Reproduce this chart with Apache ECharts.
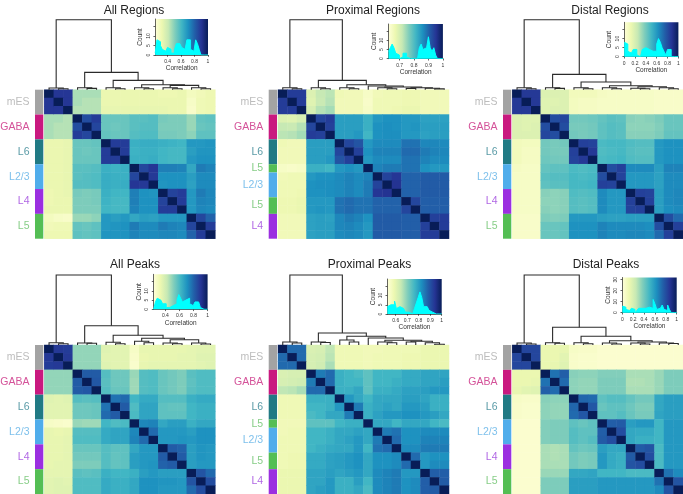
<!DOCTYPE html>
<html><head><meta charset="utf-8">
<style>html,body{margin:0;padding:0;background:#fff;overflow:hidden}#c{width:683px;height:494px}</style>
<script src="https://cdn.jsdelivr.net/npm/echarts@6/dist/echarts.min.js"></script>
</head><body><div id="c"></div>
<script>
const panelTitles = ['All Regions','Proximal Regions','Distal Regions','All Peaks','Proximal Peaks','Distal Peaks'];
const groupsSix = [['mES',3],['GABA',3],['L6',3],['L2/3',3],['L4',3],['L5',3]];
const groupsSeven = [['mES',3],['GABA',3],['L6',3],['L5',1],['L2/3',3],['L5',2],['L4',3]];
const groupColors = {mES:'#a3a3a3',GABA:'#c9197f','L6':'#217a84','L2/3':'#50adeb','L4':'#9b2fe0','L5':'#54be54'};
const labelColors = {mES:'#adadad',GABA:'#c9277f','L6':'#2f8190','L2/3':'#5cb0e6','L4':'#9b3fdc','L5':'#68c068'};
const yBuckets = ['#ffffd9','#edf8b1','#c7e9b4','#7fcdbb','#41b6c4','#1d91c0','#225ea8','#253494','#081d58'];

// Upper triangle of each correlation heat map, on the colour key's 0-100 scale
const allRegions = [
[100,87,87,30,30,30,13,13,13,13,13,13,12,12,13,8,10,12],
[100,87,30,28,28,13,13,13,13,13,13,13,13,13,6,11,12],
[100,28,28,28,14,14,14,14,14,14,14,13,13,5,11,12],
[100,80,85,42,42,42,45,45,46,39,38,38,33,43,44],
[100,82,42,41,42,45,46,46,38,38,38,33,42,43],
[100,43,42,42,46,47,47,39,39,38,35,44,44],
[100,85,85,52,53,53,52,51,50,60,60,61],
[100,85,51,52,52,50,49,49,58,61,61],
[100,52,52,53,50,49,49,60,62,62],
[100,82,87,67,67,66,55,68,66],
[100,86,62,62,62,58,64,64],
[100,61,62,62,57,64,64],
[100,83,85,60,68,65],
[100,85,60,66,65],
[100,60,65,64],
[100,82,74],
[100,85],
[100]];
const proximalRegions = [
[100,85,85,18,25,27,11,10,10,6,10,11,11,12,12,10,10,10],
[100,85,17,24,28,10,10,10,5,11,11,11,12,12,10,10,10],
[100,20,28,31,10,10,10,6,11,11,12,13,13,10,10,10],
[100,82,85,58,58,58,52,60,62,62,60,60,57,57,57],
[100,84,58,58,58,52,62,63,62,60,61,58,58,58],
[100,58,58,60,50,62,63,63,60,60,57,58,58],
[100,82,78,60,64,64,64,70,70,65,65,64],
[100,84,62,66,66,66,72,72,68,66,65],
[100,60,64,64,64,70,70,66,64,64],
[100,66,68,68,70,70,62,60,60],
[100,83,87,74,74,76,76,76],
[100,88,74,74,76,76,76],
[100,74,74,76,76,76],
[100,82,75,75,75],
[100,75,75,75],
[100,84,85],
[100,85],
[100]];
const distalRegions = [
[100,86,86,18,18,18,9,9,9,7,6,6,6,6,6,5,5,5],
[100,86,17,17,18,8,7,7,6,6,6,6,6,6,5,5,5],
[100,17,18,18,8,7,7,6,6,6,6,6,6,5,5,5],
[100,80,82,40,40,41,43,45,44,36,35,36,38,42,42],
[100,80,39,39,40,44,46,45,35,35,35,37,42,42],
[100,40,39,40,44,46,45,36,36,36,38,43,43],
[100,84,83,48,49,49,47,46,46,60,62,62],
[100,86,47,48,49,46,45,45,60,62,62],
[100,48,49,50,47,46,46,60,62,62],
[100,80,84,64,64,64,58,66,66],
[100,83,60,60,60,57,64,64],
[100,60,60,60,57,64,64],
[100,84,83,58,64,65],
[100,84,58,64,65],
[100,58,63,64],
[100,80,72],
[100,84],
[100]];
const allPeaks = [
[100,86,85,34,34,34,17,16,16,6,14,14,14,14,14,15,16,16],
[100,86,34,34,34,16,16,16,5,13,14,14,14,15,15,17,17],
[100,34,34,34,17,16,16,4,14,15,15,15,15,15,16,17],
[100,76,76,46,41,41,33,46,47,42,40,38,45,47,47],
[100,77,45,41,41,32,46,47,42,40,38,44,47,47],
[100,46,42,42,32,46,47,42,40,38,45,47,47],
[100,70,72,50,54,54,46,46,46,52,54,54],
[100,76,47,56,56,44,43,43,50,52,52],
[100,48,56,56,44,44,44,50,52,52],
[100,65,66,55,58,58,52,55,55],
[100,72,60,60,60,58,62,62],
[100,60,60,61,60,62,62],
[100,76,74,58,61,60],
[100,76,58,61,60],
[100,58,60,60],
[100,78,72],
[100,80],
[100]];
const proximalPeaks = [
[100,72,72,19,20,26,11,11,11,10,10,11,11,11,11,13,13,13],
[100,72,20,21,27,11,11,11,10,11,11,11,12,12,13,13,13],
[100,20,22,30,11,11,11,10,11,11,11,12,12,13,13,13],
[100,68,72,52,50,48,44,50,50,50,54,54,56,56,56],
[100,72,52,50,50,44,50,50,52,54,54,56,56,58],
[100,52,52,55,44,52,52,54,57,57,58,60,60],
[100,60,55,50,55,55,55,58,58,56,52,52],
[100,68,52,55,57,55,60,60,58,52,52],
[100,52,57,60,60,62,62,60,58,55],
[100,55,55,50,55,55,55,50,48],
[100,68,70,62,62,64,64,64],
[100,72,62,62,66,66,66],
[100,64,64,68,68,68],
[100,72,60,62,62],
[100,60,64,64],
[100,75,75],
[100,76],
[100]];
const distalPeaks = [
[100,82,82,13,13,14,6,5,5,3,3,3,3,3,3,3,3,3],
[100,82,13,13,16,5,4,4,3,3,3,3,3,3,3,3,3],
[100,13,14,17,5,4,4,3,3,3,3,3,3,3,3,3],
[100,70,75,36,35,35,37,37,37,30,30,30,33,38,38],
[100,72,35,34,34,38,38,38,29,29,30,33,38,38],
[100,35,34,34,38,38,38,30,30,30,33,38,38],
[100,73,72,44,46,46,43,40,40,55,58,58],
[100,77,42,44,44,41,38,38,55,58,58],
[100,44,44,46,42,39,39,56,58,58],
[100,75,76,58,60,60,50,60,60],
[100,80,55,54,54,50,60,60],
[100,55,52,52,50,60,60],
[100,76,78,48,60,60],
[100,80,48,60,60],
[100,48,60,60],
[100,70,64],
[100,78],
[100]];

// Dendrograms: [merge height, left, right]; a number is a leaf (row index)
const treeAllRegions = [70,[1.7,0,[1,1,2]],[17.3,[2,3,[1.3,4,5]],[9.3,[2,6,[1,7,8]],[5,[2,9,[1,10,11]],[4.3,[2,12,[1,13,14]],[2,15,[1,16,17]]]]]]];
const treeProximalRegions = [70,[2,0,[1,1,2]],[9.3,[2,3,[1,4,5]],[5,[2,6,[1,7,8]],[3.7,9,[2.7,[2,10,[1,11,12]],[2,[1.3,13,14],[1.5,15,[.8,16,17]]]]]]]];
const treeDistalRegions = [70,[2,0,[1,1,2]],[15.3,[2,3,[1.3,4,5]],[7.7,[2,6,[1,7,8]],[4,[2,9,[1,10,11]],[3,[1.5,12,[1,13,14]],[2,15,[1,16,17]]]]]]];
const treeAllPeaks = [70,[2.3,0,[1.3,1,2]],[19.3,[2,3,[1.7,4,5]],[9.7,[2.7,6,[1.3,7,8]],[6.7,[3.7,9,[2.3,10,11]],[5.3,[2,12,[1.3,13,14]],[2,15,[1,16,17]]]]]]];
const treeProximalPeaks = [70,[3,0,[2,1,2]],[12,[3,3,[2.5,4,5]],[8.7,[5,6,[3,7,8]],[7,9,[4.7,[3,10,[2.3,11,12]],[3.7,[3,13,14],[2.3,15,[.7,16,17]]]]]]]];
const treeDistalPeaks = [70,[2,0,[1,1,2]],[17.7,[2.3,3,[1.7,4,5]],[8.7,[2.3,6,[1.3,7,8]],[4.3,[2,9,[1,10,11]],[3,[2,12,[1,13,14]],[2,15,[1.5,16,17]]]]]]];

// Colour-key histograms: counts per equal bin from the axis minimum to 1
const histAllRegions = [1,8,7,5,3,2,1,4,3,1,1,3,6,6,5,4,3,3,8,8,3,2,2,8,6,3,0,0,0,0];
const histProximalRegions = [4,6,8,6,3,2,0,1,3,3,1,0,0,0,0,0,1,6,8,5,6,7,12,6,4,6,2,0,0,0];
const histDistalRegions = [8,7,3,2,2,4,4,1,0,1,4,5,5,4,3,3,4,3,7,10,8,5,3,1,4,4,0,0,0,0];
const histAllPeaks = [0,4,6,5,4,3,3,1,1,2,2,3,3,5,8,6,4,5,6,6,3,2,3,4,4,3,1,0,0,0];
const histProximalPeaks = [4,5,4,5,7,3,4,4,3,2,1,1,1,0,1,3,6,9,12,9,4,4,3,2,1,0,0,0,0,0];
const histDistalPeaks = [6,5,3,2,1,4,3,0,2,4,4,4,4,5,5,6,4,12,8,3,4,3,7,3,2,7,3,0,0,0];
const diagonalCount = 18;
const histMin = [0.215,0.623,0,0.233,0.527,0];
const histMax = 1;
const histXTicks = [[0.4,0.6,0.8,1],[0.7,0.8,0.9,1],[0,0.2,0.4,0.6,0.8,1],[0.4,0.6,0.8,1],[0.6,0.7,0.8,0.9,1],[0,0.2,0.4,0.6,0.8,1]];
const histYMax = [19,19,19,19,19,32];
const histYTicks = [[0,5,10,15],[0,5,10,15],[0,5,10,15],[0,5,10,15],[0,5,10,15],[0,10,20,30]];
const histYLabelled = [[0,5,10],[0,5,10],[0,5,10],[0,5,10],[0,5,10],[0,10,20,30]];

const matrices = [allRegions,proximalRegions,distalRegions,allPeaks,proximalPeaks,distalPeaks];
const trees = [treeAllRegions,treeProximalRegions,treeDistalRegions,treeAllPeaks,treeProximalPeaks,treeDistalPeaks];
const hists = [histAllRegions,histProximalRegions,histDistalRegions,histAllPeaks,histProximalPeaks,histDistalPeaks];
const panelGroups = [groupsSix,groupsSeven,groupsSix,groupsSix,groupsSeven,groupsSix];

// layout
const heatLeft = [44.3,278,512.3,44.3,278,512.3];
const heatTop = [89.7,89.7,89.7,345,345,345];
const heatW = 171, heatH = 149, sideW = 8.3, sideGap = 1;
const titleX = [129,368,605,130,364.5,601];
const titleY = [0,0,0,254,254,254];
const histBox = [[155.2,19,52.8,36],[388.5,24,54.4,34.7],[624.2,22.3,54.2,34.4],[153.6,274.3,54,35],[387.3,279,54.4,35],[622.3,277.5,54.4,35.2]];

const font = '"Liberation Sans",Arial,sans-serif';
const cats = Array.from({length:18},(_,i)=>String(i));
const grid=[],xAxis=[],yAxis=[],series=[],title=[],heatIdx=[];

function walk(node, out){
  if(typeof node==='number') return {x:node+0.5,h:0};
  const l=walk(node[1],out), r=walk(node[2],out);
  out.push([l.x,l.h,r.x,r.h,node[0]]);
  return {x:(l.x+r.x)/2,h:node[0]};
}
const bg = new echarts.graphic.LinearGradient(0,0,1,0,yBuckets.map((c,i)=>({offset:i/8,color:c})));

matrices.forEach((m,p)=>{
  title.push({text:panelTitles[p],left:titleX[p],top:titleY[p],textAlign:'center',
    textStyle:{fontFamily:font,fontSize:12,fontWeight:'normal',color:'#222'}});
  // heat map
  let gi=grid.length;
  grid.push({left:heatLeft[p],top:heatTop[p],width:heatW,height:heatH});
  xAxis.push({type:'category',gridIndex:gi,data:cats,show:false});
  yAxis.push({type:'category',gridIndex:gi,data:cats,inverse:true,show:false});
  const data=[];
  m.forEach((row,i)=>row.forEach((v,k)=>{const j=i+k;data.push([j,i,v]);if(j!==i)data.push([i,j,v]);}));
  heatIdx.push(series.length);
  series.push({type:'heatmap',xAxisIndex:gi,yAxisIndex:gi,data,progressive:0,itemStyle:{borderWidth:0},emphasis:{disabled:true}});
  // dendrogram
  gi=grid.length;
  grid.push({left:heatLeft[p],top:heatTop[p]-72,width:heatW,height:72});
  xAxis.push({type:'value',gridIndex:gi,min:0,max:18,show:false});
  yAxis.push({type:'value',gridIndex:gi,min:0,max:72,show:false});
  const merges=[];walk(trees[p],merges);
  series.push({type:'custom',xAxisIndex:gi,yAxisIndex:gi,data:merges,clip:false,silent:true,
    renderItem:(pa,api)=>{
      const v=i=>api.value(i);
      const pts=[[v(0),v(1)],[v(0),v(4)],[v(2),v(4)],[v(2),v(3)]].map(q=>api.coord(q));
      return {type:'polyline',shape:{points:pts},style:{stroke:'#2b2b2b',lineWidth:1.1,fill:'none'}};
    }});
  // row-colour bar + labels
  gi=grid.length;
  grid.push({left:heatLeft[p]-sideGap-sideW,top:heatTop[p],width:sideW,height:heatH});
  xAxis.push({type:'value',gridIndex:gi,min:0,max:1,show:false});
  yAxis.push({type:'value',gridIndex:gi,min:0,max:18,inverse:true,show:false});
  let at=0;const bars=[],labs=[];
  panelGroups[p].forEach(([name,n])=>{
    bars.push({value:[at,at+n],itemStyle:{color:groupColors[name]}});
    labs.push({value:[0,at+n/2],label:{formatter:name,color:labelColors[name]}});
    at+=n;
  });
  series.push({type:'custom',xAxisIndex:gi,yAxisIndex:gi,data:bars,silent:true,
    renderItem:(pa,api)=>{
      const a=api.coord([0,api.value(0)]),b=api.coord([1,api.value(1)]);
      return {type:'rect',shape:{x:a[0],y:a[1],width:b[0]-a[0],height:b[1]-a[1]},style:{fill:api.visual('color')}};
    }});
  series.push({type:'scatter',xAxisIndex:gi,yAxisIndex:gi,data:labs,symbolSize:1,silent:true,
    itemStyle:{color:'transparent'},
    label:{show:true,position:'left',distance:5,fontFamily:font,fontSize:10.5}});
  // inset colour key histogram
  gi=grid.length;
  const B=histBox[p];
  grid.push({left:B[0],top:B[1],width:B[2],height:B[3],show:true,backgroundColor:bg,borderWidth:0});
  const tickStyle={show:true,length:1.8,lineStyle:{color:'#222',width:.7}};
  xAxis.push({type:'value',gridIndex:gi,min:histMin[p],max:histMax,splitLine:{show:false},
    axisLine:{show:true,onZero:false,lineStyle:{color:'#222',width:.7}},
    axisTick:Object.assign({customValues:histXTicks[p]},tickStyle),
    axisLabel:{customValues:histXTicks[p],fontSize:5,margin:4,color:'#333',fontFamily:font,hideOverlap:false,showMinLabel:true,showMaxLabel:true,
      formatter:v=>String(+(+v).toFixed(1))},
    name:'Correlation',nameLocation:'middle',nameGap:10,nameTextStyle:{fontSize:6.5,color:'#333',fontFamily:font}});
  yAxis.push({type:'value',gridIndex:gi,min:0,max:histYMax[p],splitLine:{show:false},
    axisLine:{show:true,onZero:false,lineStyle:{color:'#222',width:.7}},
    axisTick:Object.assign({customValues:histYTicks[p]},tickStyle),
    axisLabel:{customValues:histYLabelled[p],rotate:90,fontSize:5,margin:4,color:'#333',fontFamily:font,hideOverlap:false,showMinLabel:true,showMaxLabel:true},
    name:'Count',nameLocation:'middle',nameGap:11,nameRotate:90,nameTextStyle:{fontSize:6.5,color:'#333',fontFamily:font}});
  const h=hists[p], step=(histMax-histMin[p])/h.length;
  const hd=h.map((c,i)=>[histMin[p]+i*step,c]);
  hd.push([histMax,0]);
  series.push({type:'line',xAxisIndex:gi,yAxisIndex:gi,data:hd,step:'end',symbol:'none',silent:true,
    lineStyle:{color:'#00ffff',width:1},areaStyle:{color:'#00ffff',opacity:1}});
  const sp=(histMax-histMin[p])*0.012;
  series.push({type:'line',xAxisIndex:gi,yAxisIndex:gi,data:[[histMax-sp,diagonalCount],[histMax,diagonalCount]],symbol:'none',silent:true,
    lineStyle:{width:0,color:'#00ffff'},areaStyle:{color:'#00ffff',opacity:1}});
});

const chart=echarts.init(document.getElementById('c'),null,{renderer:'canvas'});
chart.setOption({animation:false,backgroundColor:'#fff',title,grid,xAxis,yAxis,series,
  visualMap:{show:false,type:'continuous',min:0,max:100,seriesIndex:heatIdx,inRange:{color:yBuckets}}});
</script></body></html>
